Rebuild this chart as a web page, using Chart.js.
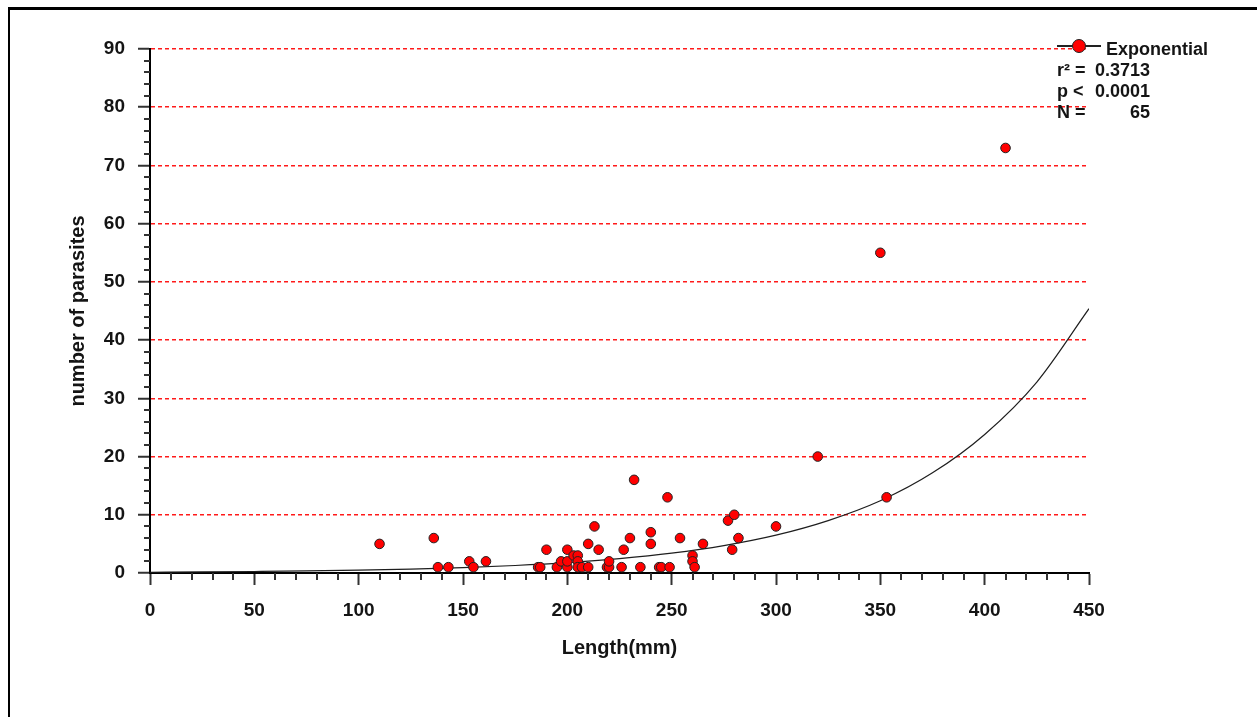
<!DOCTYPE html>
<html>
<head>
<meta charset="utf-8">
<script src="https://cdn.jsdelivr.net/npm/chart.js@4/dist/chart.umd.min.js"></script>
<style>
  html, body { margin: 0; padding: 0; background: #fff; }
  canvas { display: block; }
</style>
</head>
<body>
<canvas id="chart" width="1257" height="717"></canvas>
<script>
// observed fish: length (mm) and parasite count
const lengthMm = [110, 136, 138, 143, 153, 155, 161, 186, 187, 190, 195, 197, 200, 200, 200,
  203, 205, 205, 205, 207, 210, 210, 213, 215, 219, 220, 220, 226, 227, 230, 232, 235, 240,
  240, 244, 245, 248, 249, 254, 260, 260, 261, 265, 277, 279, 280, 282, 300, 320, 350, 353, 410];
const parasites = [5, 6, 1, 1, 2, 1, 2, 1, 1, 4, 1, 2, 4, 1, 2,
  3, 3, 2, 1, 1, 5, 1, 8, 4, 1, 1, 2, 1, 4, 6, 16, 1, 7,
  5, 1, 1, 13, 1, 6, 3, 2, 1, 5, 9, 4, 10, 6, 8, 20, 55, 13, 73];

// exponential fit curve
const fitLength = [0, 25, 50, 75, 100, 125, 150, 175, 200, 225, 250, 275, 300, 325, 350, 375, 400, 425, 450];
const fitParasites = [0.13, 0.19, 0.26, 0.35, 0.49, 0.68, 0.93, 1.29, 1.78, 2.47, 3.41, 4.71, 6.5, 9.0, 12.4, 17.2, 23.8, 32.8, 45.4];

const xTickValues = [0, 50, 100, 150, 200, 250, 300, 350, 400, 450];
const yTickValues = [0, 10, 20, 30, 40, 50, 60, 70, 80, 90];

const fitName = 'Exponential';
const statLabels = ['r\u00b2 =', 'p <', 'N ='];
const statValues = ['0.3713', '0.0001', '65'];

const FAMILY = '"Liberation Sans", Arial, sans-serif';
const TICK_FONT = { family: FAMILY, size: 19, weight: 'bold' };
const TITLE_FONT = { family: FAMILY, size: 20, weight: 'bold' };
const TEXT = '#141414';

const minorTicks = {
  id: 'minorTicks',
  afterDraw(chart) {
    const { ctx, chartArea, scales } = chart;
    ctx.save();
    ctx.strokeStyle = '#333';
    ctx.lineWidth = 2;
    ctx.beginPath();
    for (let v = 0; v <= 90; v += 2) {
      if (v % 10 === 0) continue;
      const y = Math.round(scales.y.getPixelForValue(v));
      ctx.moveTo(chartArea.left - 6, y);
      ctx.lineTo(chartArea.left, y);
    }
    for (let v = 0; v <= 450; v += 10) {
      if (v % 50 === 0) continue;
      const x = Math.round(scales.x.getPixelForValue(v));
      ctx.moveTo(x, chartArea.bottom);
      ctx.lineTo(x, chartArea.bottom + 7);
    }
    ctx.stroke();
    ctx.restore();
  }
};

const frame = {
  id: 'frame',
  afterDraw(chart) {
    const ctx = chart.ctx;
    ctx.save();
    ctx.fillStyle = '#000';
    ctx.fillRect(8, 7, chart.width - 8, 3);
    ctx.fillRect(8, 7, 2, chart.height - 7);
    ctx.restore();
  }
};

const fitLegend = {
  id: 'fitLegend',
  afterDraw(chart) {
    const ctx = chart.ctx;
    ctx.save();
    ctx.strokeStyle = '#222';
    ctx.lineWidth = 2;
    ctx.beginPath();
    ctx.moveTo(1057, 46);
    ctx.lineTo(1101, 46);
    ctx.stroke();
    ctx.beginPath();
    ctx.arc(1079, 46, 6.5, 0, Math.PI * 2);
    ctx.fillStyle = '#ff0000';
    ctx.fill();
    ctx.lineWidth = 1;
    ctx.strokeStyle = '#222';
    ctx.stroke();
    ctx.font = `bold 18px ${FAMILY}`;
    ctx.fillStyle = TEXT;
    ctx.textBaseline = 'alphabetic';
    ctx.textAlign = 'left';
    ctx.fillText(fitName, 1106, 55);
    statLabels.forEach((lbl, i) => {
      const y = 76 + i * 21;
      ctx.textAlign = 'left';
      ctx.fillText(lbl, 1057, y);
      ctx.textAlign = 'right';
      ctx.fillText(statValues[i], 1150, y);
    });
    ctx.restore();
  }
};

new Chart(document.getElementById('chart'), {
  type: 'scatter',
  data: {
    datasets: [
      {
        type: 'scatter',
        data: lengthMm.map((x, i) => ({ x, y: parasites[i] })),
        backgroundColor: '#ff0000',
        borderColor: '#222',
        borderWidth: 1,
        pointRadius: 4.8,
        order: 0
      },
      {
        type: 'line',
        data: fitLength.map((x, i) => ({ x, y: fitParasites[i] })),
        borderColor: '#1e1e1e',
        borderWidth: 1.2,
        pointRadius: 0,
        fill: false,
        cubicInterpolationMode: 'monotone',
        order: 1
      }
    ]
  },
  options: {
    responsive: false,
    animation: false,
    layout: { padding: { left: 60, top: 49, right: 168, bottom: 50 } },
    plugins: { legend: { display: false }, tooltip: { enabled: false } },
    scales: {
      x: {
        type: 'linear',
        min: 0,
        max: 450,
        afterFit: s => { s.height = 94; },
        afterBuildTicks: s => { s.ticks = xTickValues.map(v => ({ value: v })); },
        ticks: { font: TICK_FONT, color: TEXT, padding: 14, maxRotation: 0, autoSkip: false },
        grid: { drawOnChartArea: false, tickLength: 12, tickColor: '#333', tickWidth: 2 },
        border: { color: '#000', width: 2 },
        title: { display: true, text: 'Length(mm)', font: TITLE_FONT, color: TEXT, padding: { top: 0, bottom: 7 } }
      },
      y: {
        type: 'linear',
        min: 0,
        max: 90,
        afterFit: s => { s.width = 90; },
        afterBuildTicks: s => { s.ticks = yTickValues.map(v => ({ value: v })); },
        ticks: { font: TICK_FONT, color: TEXT, padding: 13, autoSkip: false },
        grid: {
          color: '#ff1a1a',
          lineWidth: 1.5,
          tickLength: 12,
          tickColor: '#333',
          tickWidth: 2
        },
        border: { color: '#000', width: 2, dash: [4, 3] },
        title: { display: true, text: 'number of parasites', font: TITLE_FONT, color: TEXT, padding: { top: 6, bottom: 0 } }
      }
    }
  },
  plugins: [minorTicks, frame, fitLegend]
});
</script>
</body>
</html>
